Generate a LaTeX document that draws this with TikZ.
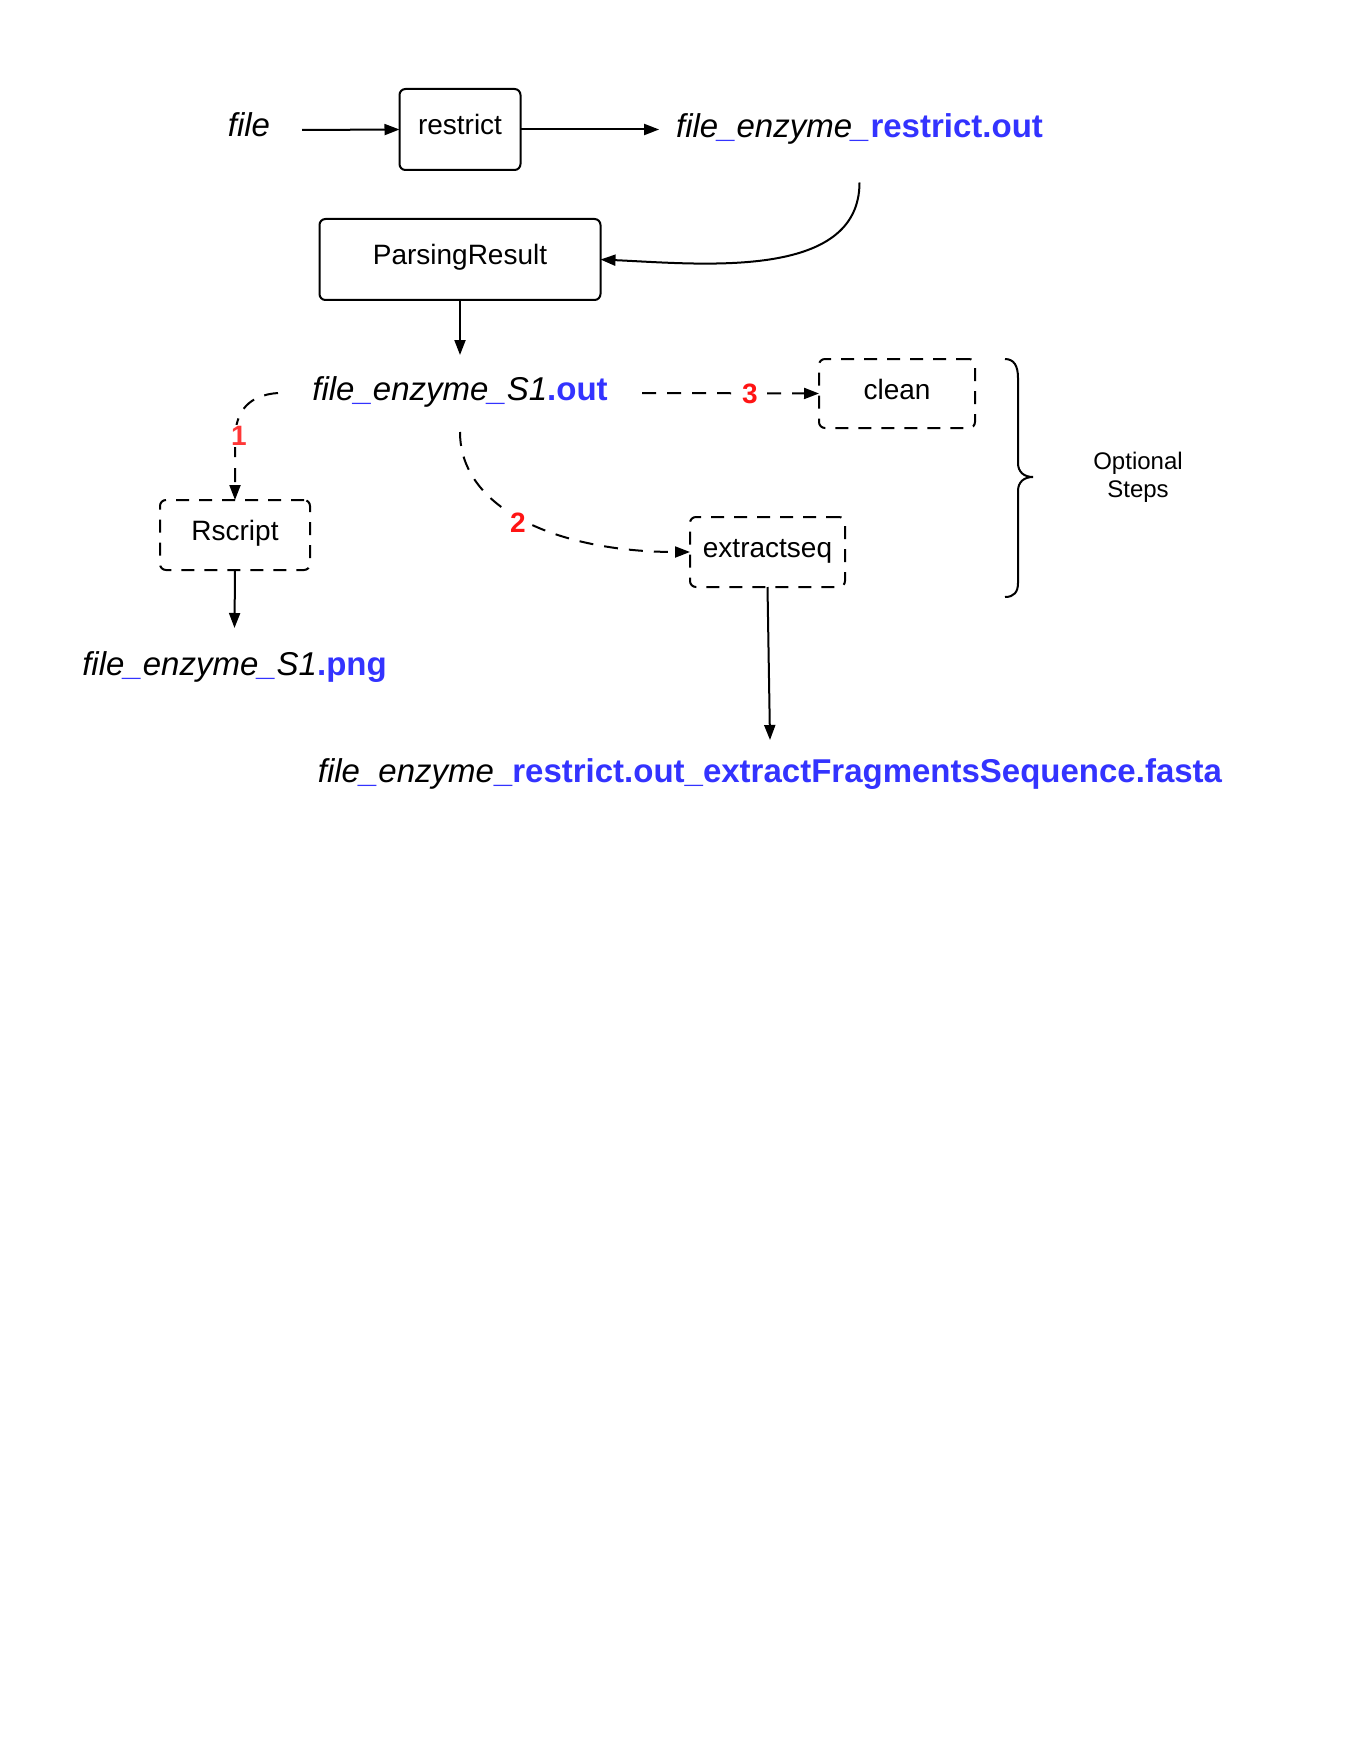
\documentclass[tikz,border=0pt]{standalone}
\usepackage{fontspec}
\setmainfont{Liberation Sans}
\usetikzlibrary{arrows.meta}
\definecolor{fblue}{RGB}{51,51,255}
\definecolor{numred}{RGB}{255,20,20}
\definecolor{numredl}{RGB}{255,55,55}
\newcommand{\myfs}[2]{\fontsize{#1}{#2}\selectfont}
\newcommand{\bu}{\textcolor{fblue}{\_}}
\newcommand{\bb}[1]{\textcolor{fblue}{\upshape\bfseries #1}}
\begin{document}
\begin{tikzpicture}[x=1pt,y=-1pt,
  every node/.style={inner sep=0pt,outer sep=0pt},
  fname/.style={font=\myfs{33}{40}\itshape,anchor=base},
  procbox/.style={draw,line width=2pt,rounded corners=6pt,font=\myfs{28}{34},text height=20pt,text depth=9pt},
  optbox/.style={procbox,dash pattern=on 13pt off 10pt},
  conn/.style={line width=2pt,-{Triangle[length=15pt,width=11pt]}},
  dconn/.style={conn,dash pattern=on 14pt off 11pt},
  num/.style={font=\myfs{28}{32}\bfseries,text=numred,fill=white,inner sep=1pt}]
\useasboundingbox (0,0) rectangle (1360,1760);
\fill[white] (0,0) rectangle (1360,1760);

% nodes
\node[fname] (file) at (249,136.5) {file};
\node[procbox,minimum width=121pt,minimum height=81pt] (restrict) at (460,129.5) {restrict};
\node[fname] (fer) at (859.5,137.5) {file\bu enzyme\bu\bb{restrict.out}};
\node[procbox,minimum width=281pt,minimum height=81pt] (parse) at (460,259.5) {ParsingResult};
\node[fname] (s1out) at (460,400) {file\bu enzyme\bu S1\bb{.out}};
\node[optbox,minimum width=150pt,minimum height=70pt] (rscript) at (235,535) {Rscript};
\node[optbox,minimum width=156pt,minimum height=69pt] (clean) at (897,393.5) {clean};
\node[optbox,minimum width=155pt,minimum height=70pt] (extract) at (767.5,552) {extractseq};
\node[fname] (s1png) at (234.5,675) {file\bu enzyme\bu S1\bb{.png}};
\node[fname] (fasta) at (770,782) {file\bu enzyme\bb{\_restrict.out\_extractFragmentsSequence.fasta}};
\node[font=\myfs{24}{28},align=center] (opt) at (1138,477) {Optional\\Steps};

% connectors
\draw[conn] ([shift={(53,-6.5)}]file.base) -- (restrict.west);
\draw[conn] (restrict.east) -- ([xshift=-17pt]fer.west |- restrict.east);
\draw[conn] ([yshift=-45pt]fer.base) .. controls +(0,98) and +(100,4.5) .. (parse.east);
\draw[conn] (parse.south) -- ([yshift=45pt]s1out.base);
\draw[dconn] ([shift={(-182,-7)}]s1out.base) .. controls +(-28,2) and +(0,-30) .. ([yshift=60pt]rscript.north) -- (rscript.north);
\draw[dconn] ([yshift=-32pt]s1out.base) .. controls +(0,78) and +(-130,0) .. (extract.west);
\draw[dconn] ([shift={(182,-7)}]s1out.base) -- (clean.west);
\draw[conn] (rscript.south) -- ([yshift=47pt]s1png.base);
\draw[conn] (extract.south) -- ([yshift=42pt]fasta.base);

% step numbers
\node[num,text=numredl] (n1) at (239,436) {1};
\node[num] (n2) at (518,523) {2};
\node[num] (n3) at (750,394) {3};

% brace
\draw[line width=2pt] (1005,359) .. controls (1014,359) and (1018,366) .. (1018,378)
  -- (1018,463) .. controls (1018,472) and (1024,477) .. (1033,477)
  .. controls (1024,477) and (1018,482) .. (1018,491)
  -- (1018,583) .. controls (1018,592) and (1014,597) .. (1005,597);
\end{tikzpicture}
\end{document}
